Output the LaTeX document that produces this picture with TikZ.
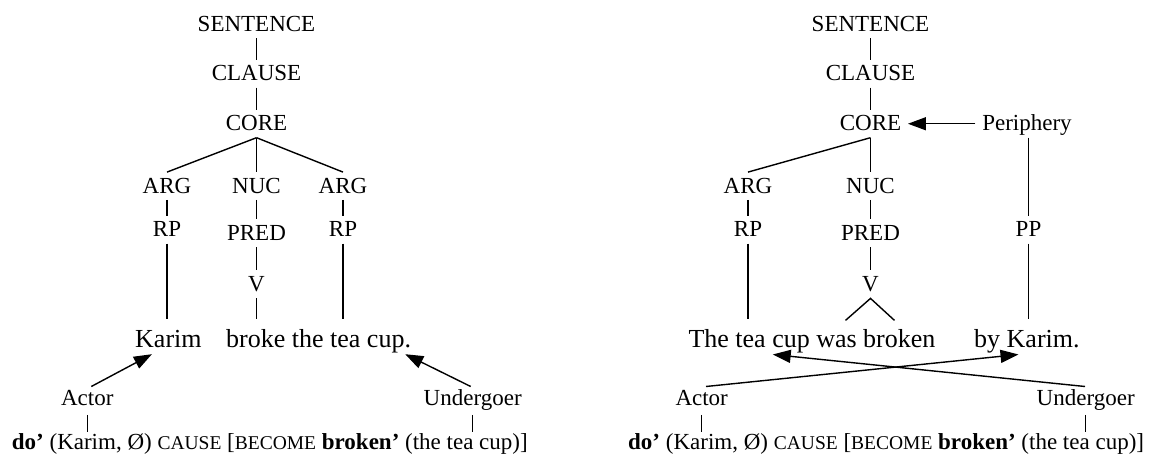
\documentclass[tikz,border=0pt]{standalone}
\usepackage{fontspec}
\setmainfont{Liberation Serif}
\usetikzlibrary{arrows.meta,calc}
\newcommand{\smallcapsfake}[1]{{\fontsize{19.5}{21}\selectfont #1}}
\begin{document}
\begin{tikzpicture}[x=1pt,y=-1pt,
  lab/.style={inner sep=0pt, anchor=base, text height=21pt, text depth=6.5pt,
              font=\fontsize{23}{27}\selectfont},
  role/.style={lab, text height=19pt, text depth=9pt},
  sent/.style={inner sep=0pt, anchor=base west, text height=27.7pt, text depth=7pt,
               font=\fontsize{26}{30}\selectfont},
  form/.style={inner sep=0pt, anchor=base west, text height=17.8pt, text depth=5pt,
               font=\fontsize{23}{27}\selectfont},
  edge/.style={line width=1.4pt},
  arr/.style={line width=1.4pt, -{Triangle[length=18pt,width=13pt]}},
]
\useasboundingbox (0,0) rectangle (1156,454);

% ---------- active clause ----------
\node[lab] (s1) at (256.5,31.7) {SENTENCE};
\node[lab] (c1) at (256.5,81) {CLAUSE};
\node[lab] (k1) at (256.5,131) {CORE};
\node[lab] (a1) at (167,193.3) {ARG};
\node[lab] (n1) at (256.5,193.3) {NUC};
\node[lab] (a2) at (343,193.3) {ARG};
\node[lab] (r1) at (167,237) {RP};
\node[lab] (p1) at (256.5,240.7) {PRED};
\node[lab] (r2) at (343,237) {RP};
\node[lab] (v1) at (256.5,291.7) {V};
\node[sent] (karim) at (135,347) {Karim};
\node[sent] (brk) at (226,347) {broke the tea cup.};
\node[role] (act1) at (87.3,405.7) {Actor};
\node[role] (und1) at (472.7,405.7) {Undergoer};
\node[form] (f1) at (11.7,449.5) {\textbf{do’} (Karim, Ø) \smallcapsfake{CAUSE} [\smallcapsfake{BECOME} \textbf{broken’} (the tea cup)]};

\draw[edge] (s1.south) -- (c1.north);
\draw[edge] (c1.south) -- (k1.north);
\draw[edge] (k1.south) -- (a1.north);
\draw[edge] (k1.south) -- (n1.north);
\draw[edge] (k1.south) -- (a2.north);
\draw[edge] (a1.south) -- (r1.north);
\draw[edge] (n1.south) -- (p1.north);
\draw[edge] (a2.south) -- (r2.north);
\draw[edge] (p1.south) -- (v1.north);
\draw[edge] (r1.south) -- (r1.south |- karim.north);
\draw[edge] (v1.south) -- (v1.south |- brk.north);
\draw[edge] (r2.south) -- (r2.south |- brk.north);
\draw[edge] (act1.south) -- (act1.south |- f1.north);
\draw[edge] (und1.south) -- (und1.south |- f1.north);
\draw[arr] ([xshift=4pt]act1.north) -- ([xshift=-16.5pt]karim.south);
\draw[arr] ([xshift=-2pt]und1.north) -- ([xshift=-6pt]brk.south east);

% ---------- passive clause ----------
\node[lab] (s2) at (870.5,31.7) {SENTENCE};
\node[lab] (c2) at (870.5,81) {CLAUSE};
\node[lab] (k2) at (870.5,131) {CORE};
\node[lab] (per) at (1027,131) {Periphery};
\node[lab] (a3) at (748,193.3) {ARG};
\node[lab] (n2) at (870.5,193.3) {NUC};
\node[lab] (r3) at (748,237) {RP};
\node[lab] (p2) at (870.5,240.7) {PRED};
\node[lab] (pp) at (1028.5,237) {PP};
\node[lab] (v2) at (870.5,291.7) {V};
\node[sent] (pas) at (688.3,347.3) {The tea cup was broken};
\node[sent] (byk) at (974,347.3) {by Karim.};
\node[role] (act2) at (701.7,405.7) {Actor};
\node[role] (und2) at (1085.7,405.7) {Undergoer};
\node[form] (f2) at (628,449.5) {\textbf{do’} (Karim, Ø) \smallcapsfake{CAUSE} [\smallcapsfake{BECOME} \textbf{broken’} (the tea cup)]};

\coordinate (vl) at ($(v2.south)+(-25,22)$);
\coordinate (vr) at ($(v2.south)+(24,22)$);

\draw[edge] (s2.south) -- (c2.north);
\draw[edge] (c2.south) -- (k2.north);
\draw[edge] (k2.south) -- (a3.north);
\draw[edge] (k2.south) -- (n2.north);
\draw[edge] (a3.south) -- (r3.north);
\draw[edge] (n2.south) -- (p2.north);
\draw[edge] (p2.south) -- (v2.north);
\draw[edge] ([xshift=1.5pt]per.south) -- (pp.north);
\draw[edge] (r3.south) -- (r3.south |- pas.north);
\draw[edge] (pp.south) -- (pp.south |- byk.north);
\draw[edge] (vl) -- (v2.south) -- (vr);
\draw[edge] (act2.south) -- (act2.south |- f2.north);
\draw[edge] (und2.south) -- (und2.south |- f2.north);
\draw[arr, shorten <=6.7pt, shorten >=6.6pt] (per.west) -- (k2.east);
\draw[arr] ([xshift=4.3pt]act2.north) -- ([xshift=-8.4pt]byk.south);
\draw[arr] ([xshift=-0.7pt]und2.north) -- ([xshift=84.4pt]pas.south west);
\end{tikzpicture}
\end{document}
